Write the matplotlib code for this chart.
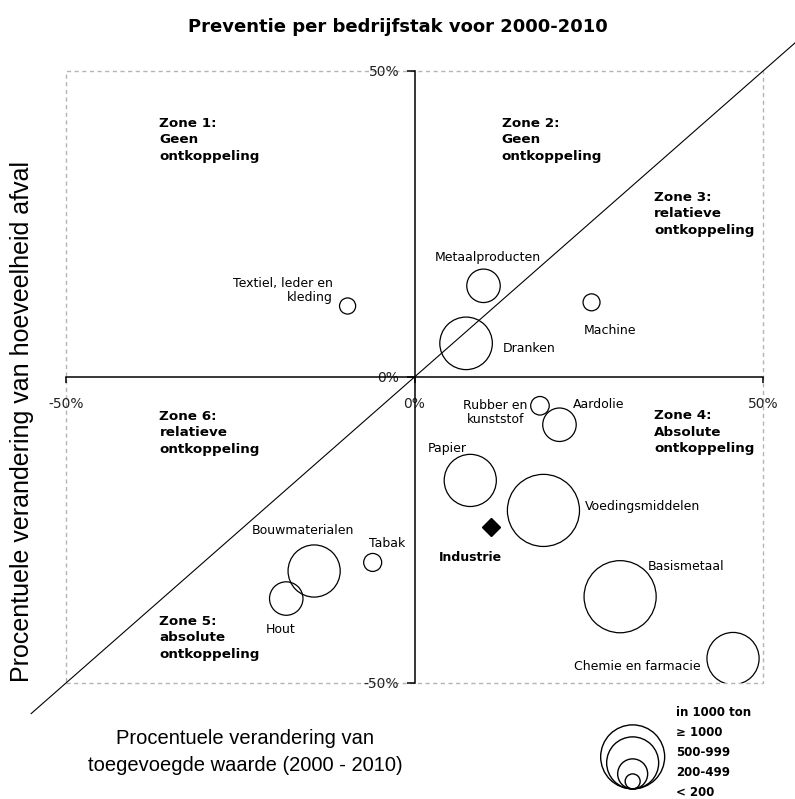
import matplotlib
matplotlib.use("Agg")
import matplotlib.pyplot as plt
from matplotlib.patches import Rectangle
from matplotlib import transforms

# procentuele verandering toegevoegde waarde (x) en hoeveelheid afval (y), 2000-2010
sectors = ["Textiel, leder en\nkleding", "Metaalproducten", "Machine", "Dranken",
           "Rubber en\nkunststof", "Aardolie", "Papier", "Voedingsmiddelen",
           "Tabak", "Bouwmaterialen", "Hout", "Basismetaal", "Chemie en farmacie"]
value_change = [-9.6, 9.9, 25.4, 7.4, 18.0, 20.8, 8.0, 18.5, -6.0, -14.4, -18.4, 29.5, 45.7]
waste_change = [11.6, 14.9, 12.2, 5.5, -4.7, -7.8, -16.9, -21.8, -30.3, -31.7, -36.2, -35.9, -46.0]
waste_kton = [65, 280, 72, 690, 86, 280, 680, 1300, 81, 680, 280, 1300, 680]

industry_label = "Industrie"
industry_x = 11.0
industry_y = -24.5

size_classes = ["\u2265 1000", "500-999", "200-499", "< 200"]
class_kton = [1024, 676, 225, 56]

zones = ["Zone 1:\nGeen\nontkoppeling", "Zone 2:\nGeen\nontkoppeling",
         "Zone 3:\nrelatieve\nontkoppeling", "Zone 4:\nAbsolute\nontkoppeling",
         "Zone 5:\nabsolute\nontkoppeling", "Zone 6:\nrelatieve\nontkoppeling"]

# label placement: offset in points from bubble centre, alignment
label_pos = [(-10.8, 11.5, "right"), (3.4, 20.2, "center"), (-5.8, -20.2, "left"),
             (26.1, -3.4, "left"), (-31.9, -4.9, "center"), (9.9, 14.4, "left"),
             (-30.7, 22.8, "left"), (29.5, 2.7, "left"), (-2.4, 13.5, "left"),
             (-8.4, 29.5, "center"), (-4.1, -22.1, "center"), (19.7, 22.1, "left"),
             (-23.3, -5.5, "right")]
zone_pos = [(-36.6, 38.8), (12.5, 38.8), (34.4, 26.7), (34.4, -9.0), (-36.6, -42.6), (-36.6, -9.1)]


def bubble_area(v):
    # radius in pixels = sqrt(kton) at 100 dpi
    return 2.0736 * v


fig = plt.figure(figsize=(7.95, 7.99), dpi=100)
ax = fig.add_axes([66 / 795, 116 / 799, 697 / 795, 612 / 799])
ax.set_xlim(-50, 50)
ax.set_ylim(-50, 50)
ax.patch.set_visible(False)

# grey dashed plot area
ax.add_patch(Rectangle((-50, -50), 100, 100, fill=False, ec="#b4b4b4",
                       lw=1.0, ls=(0, (3, 2.5)), zorder=0, clip_on=False))

for s in ["top", "right"]:
    ax.spines[s].set_visible(False)
for s in ["left", "bottom"]:
    ax.spines[s].set_position(("data", 0))
    ax.spines[s].set_bounds(-50, 50)
    ax.spines[s].set_linewidth(1.1)
ax.set_xticks([-50, 0, 50])
ax.set_xticklabels(["-50%", "0%", "50%"])
ax.set_yticks([-50, 0, 50])
ax.set_yticklabels(["-50%", "0%", "50%"])
ax.tick_params(axis="x", length=4.3, width=1.1, pad=10, labelsize=10, labelcolor="#222222")
ax.tick_params(axis="y", length=5.5, width=1.1, pad=5.5, labelsize=10, labelcolor="#222222")

# diagonal y = x
diag = [-55, 55]
ax.plot(diag, diag, color="black", lw=0.8, clip_on=False, zorder=1)

ax.scatter(value_change, waste_change, s=[bubble_area(v) for v in waste_kton],
           facecolors="none", edgecolors="black", linewidths=0.9, zorder=3)

for name, x, y, (dx, dy, ha) in zip(sectors, value_change, waste_change, label_pos):
    ax.annotate(name, (x, y), xytext=(dx, dy), textcoords="offset points",
                ha=ha, va="center", fontsize=9, multialignment=ha,
                linespacing=1.1)

ax.plot([industry_x], [industry_y], marker="D", ms=9.5, color="black", zorder=4)
ax.annotate(industry_label, (industry_x, industry_y), xytext=(-37.9, -21.8),
            textcoords="offset points", ha="left", va="center", fontsize=9, fontweight="bold")

for text, (x, y) in zip(zones, zone_pos):
    ax.text(x, y, text, ha="left", va="center", fontsize=9.7, fontweight="bold",
            linespacing=1.35)

# size legend, circles standing on one baseline
leg_x, leg_y = 31.3, -67.3
for v in class_kton:
    r_pt = 0.72 * v ** 0.5
    tr = transforms.offset_copy(ax.transData, fig=fig, x=0, y=r_pt, units="points")
    ax.scatter([leg_x], [leg_y], s=bubble_area(v), transform=tr, facecolors="none",
               edgecolors="black", linewidths=1.0, clip_on=False)

leg_lines = ["in 1000 ton"] + size_classes
for i, t in enumerate(leg_lines):
    fig.text(676 / 795, 1 - (713 + 20 * i) / 799, t, ha="left", va="center",
             fontsize=8.5, fontweight="bold")

fig.text(398 / 795, 1 - 27 / 799, "Preventie per bedrijfstak voor 2000-2010",
         ha="center", va="center", fontsize=13, fontweight="bold")
fig.text(245 / 795, 1 - 752 / 799, "Procentuele verandering van\ntoegevoegde waarde (2000 - 2010)",
         ha="center", va="center", fontsize=14.5, family="Liberation Sans", linespacing=1.5)
fig.text(22 / 795, 1 - 422 / 799, "Procentuele verandering van hoeveelheid afval",
         ha="center", va="center", rotation=90, fontsize=18, family="Liberation Sans")

fig.savefig("out.png", dpi=100)
